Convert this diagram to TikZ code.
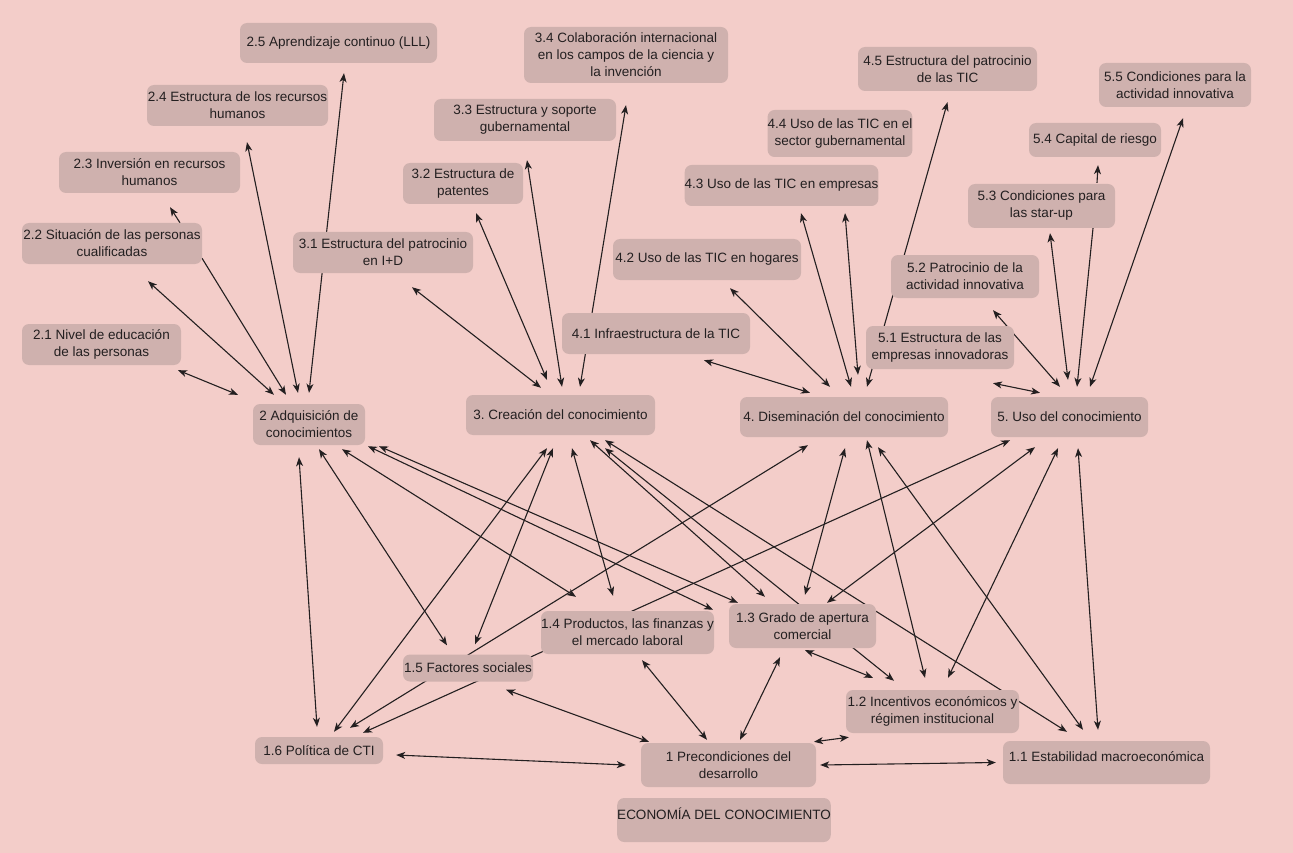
\documentclass[tikz,border=0pt]{standalone}
\usepackage{fontspec}
\setmainfont{Liberation Sans}
\usepackage{tikz}
\usetikzlibrary{arrows.meta}
\definecolor{fondo}{rgb}{0.953,0.804,0.788}
\definecolor{caja}{rgb}{0.812,0.694,0.682}
\definecolor{trazo}{rgb}{0.137,0.122,0.125}
\pgfdeclarelayer{lineas}
\pgfsetlayers{lineas,main}
\frenchspacing

\begin{document}
\begin{tikzpicture}[line cap=round,line join=round,>={Stealth[length=9pt,width=7pt,inset=2.5pt]},x=1pt,y=-1pt,
  recuadro/.style={fill=caja,rounded corners=7pt,align=center,inner sep=0pt,text=trazo,font=\fontsize{13.5}{17}\selectfont},
  flecha/.style={<->,draw=trazo,line width=1.1pt},
  flechauna/.style={->,draw=trazo,line width=1.1pt}]
\node[recuadro,minimum width=197,minimum height=40] (n25) at (338.5,43) {2.5 Aprendizaje continuo (LLL)};
\node[recuadro,minimum width=204,minimum height=56] (n34) at (626,55) {3.4 Colaboración internacional\\en los campos de la ciencia y\\la invención};
\node[recuadro,minimum width=181,minimum height=41] (n24) at (237.5,105.5) {2.4 Estructura de los recursos\\humanos};
\node[recuadro,minimum width=182,minimum height=42] (n33) at (525,120) {3.3 Estructura y soporte\\gubernamental};
\node[recuadro,minimum width=179,minimum height=44] (n45) at (947.5,69) {4.5 Estructura del patrocinio\\de las TIC};
\node[recuadro,minimum width=152,minimum height=44] (n55) at (1175,85) {5.5 Condiciones para la\\actividad innovativa};
\node[recuadro,minimum width=144,minimum height=47] (n44) at (840,133.5) {4.4 Uso de las TIC en el\\sector gubernamental};
\node[recuadro,minimum width=181,minimum height=41] (n23) at (149.5,172.5) {2.3 Inversión en recursos\\humanos};
\node[recuadro,minimum width=120,minimum height=41] (n32) at (463,183.5) {3.2 Estructura de\\patentes};
\node[recuadro,minimum width=132,minimum height=34] (n54) at (1095,140) {5.4 Capital de riesgo};
\node[recuadro,minimum width=189,minimum height=41] (n43) at (781.5,185.5) {4.3 Uso de las TIC en empresas};
\node[recuadro,minimum width=147,minimum height=44] (n53) at (1041.5,206) {5.3 Condiciones para\\las star-up};
\node[recuadro,minimum width=180,minimum height=41] (n22) at (112,243.5) {2.2 Situación de las personas\\cualificadas};
\node[recuadro,minimum width=180,minimum height=41] (n31) at (383,252.5) {3.1 Estructura del patrocinio\\en I+D};
\node[recuadro,minimum width=188,minimum height=41] (n42) at (707,259.5) {4.2 Uso de las TIC en hogares};
\node[recuadro,minimum width=148,minimum height=43] (n52) at (965,276.5) {5.2 Patrocinio de la\\actividad innovativa};
\node[recuadro,minimum width=159,minimum height=41] (n21) at (101.5,344.5) {2.1 Nivel de educación\\de las personas};
\node[recuadro,minimum width=188,minimum height=41] (n41) at (656,333.5) {4.1 Infraestructura de la TIC};
\node[recuadro,minimum width=148,minimum height=43] (n51) at (940,347.5) {5.1 Estructura de las\\empresas innovadoras};
\node[recuadro,minimum width=112,minimum height=41] (n2) at (309,424.5) {2 Adquisición de\\conocimientos};
\node[recuadro,minimum width=189,minimum height=40] (n3) at (560.5,415) {3. Creación del conocimiento};
\node[recuadro,minimum width=208,minimum height=40] (n4) at (844,417) {4. Diseminación del conocimiento};
\node[recuadro,minimum width=157,minimum height=40] (n5) at (1069.5,417) {5. Uso del conocimiento};
\node[recuadro,minimum width=173,minimum height=43] (n14) at (627.5,632.5) {1.4 Productos, las finanzas y\\el mercado laboral};
\node[recuadro,minimum width=147,minimum height=44] (n13) at (802.5,626) {1.3 Grado de apertura\\comercial};
\node[recuadro,minimum width=130,minimum height=27] (n15) at (468,668) {1.5 Factores sociales};
\node[recuadro,minimum width=173,minimum height=43] (n12) at (932.5,711.5) {1.2 Incentivos económicos y\\régimen institucional};
\node[recuadro,minimum width=128,minimum height=27] (n16) at (319,750.5) {1.6 Política de CTI};
\node[recuadro,minimum width=175,minimum height=44] (n1) at (728.5,765) {1 Precondiciones del\\desarrollo};
\node[recuadro,minimum width=207,minimum height=43,text depth=12pt] (n11) at (1106.5,762.5) {1.1 Estabilidad macroeconómica};
\node[recuadro,minimum width=208,minimum height=44,text depth=12pt] (neco) at (724,820) {ECONOMÍA DEL CONOCIMIENTO};
\begin{pgfonlayer}{lineas}
\fill[fondo] (0,0) rectangle (1293,853);
\draw[flecha] ([shift={(76.5,5)}]n21.south) -- ([shift={(-71,-9)}]n2.north);
\draw[flecha] ([shift={(36,17)}]n22.south) -- ([shift={(-35,-9)}]n2.north);
\draw[flechauna] ([shift={(90,-6)}]n22.south) -- ([shift={(-23,-9)}]n2.north);
\draw[flechauna] ([shift={(68,0)}]n22.north) -- ([shift={(20.5,14)}]n23.south);
\draw[flecha] ([shift={(9.5,16)}]n24.south) -- ([shift={(-11,-11)}]n2.north);
\draw[flecha] ([shift={(5.5,10)}]n25.south) -- ([shift={(0,-11)}]n2.north);
\draw[flecha] ([shift={(29,14)}]n31.south) -- ([shift={(-19.5,-7)}]n3.north);
\draw[flecha] ([shift={(13,9)}]n32.south) -- ([shift={(-13.5,-15)}]n3.north);
\draw[flecha] ([shift={(2,19)}]n33.south) -- ([shift={(1.5,-8)}]n3.north);
\draw[flecha] ([shift={(0,22)}]n34.south) -- ([shift={(19.5,-8)}]n3.north);
\draw[flecha] ([shift={(48,6)}]n41.south) -- ([shift={(-34,-4)}]n4.north);
\draw[flecha] ([shift={(23,8)}]n42.south) -- ([shift={(-14,-10)}]n4.north);
\draw[flecha] ([shift={(19.5,7)}]n43.south) -- ([shift={(7,-10)}]n4.north);
\draw[flecha] ([shift={(63.5,7)}]n43.south) -- ([shift={(14,-22)}]n4.north);
\draw[flecha] ([shift={(0,11)}]n45.south) -- ([shift={(23,-10)}]n4.north);
\draw[flecha] ([shift={(53,14)}]n51.south) -- ([shift={(-29.5,-4)}]n5.north);
\draw[flecha] ([shift={(28,12)}]n52.south) -- ([shift={(-9.5,-10)}]n5.north);
\draw[flecha] ([shift={(8.5,5)}]n53.south) -- ([shift={(-1.5,-17)}]n5.north);
\draw[flechauna] ([shift={(55.5,-1)}]n53.north) -- ([shift={(3,8)}]n54.south);
\draw[flechauna] ([shift={(51.5,0)}]n53.south) -- ([shift={(7.5,-10)}]n5.north);
\draw[flecha] ([shift={(8,11)}]n55.south) -- ([shift={(20.5,-10)}]n5.north);
\draw[flecha] ([shift={(-10,12)}]n2.south) -- ([shift={(-2,-10)}]n16.north);
\draw[flecha] ([shift={(10,4)}]n2.south) -- ([shift={(-21,-9)}]n15.north);
\draw[flecha] ([shift={(33,4)}]n2.south) -- ([shift={(-51.5,-14)}]n14.north);
\draw[flecha] ([shift={(59,1)}]n2.south) -- ([shift={(85.5,-1)}]n14.north);
\draw[flecha] ([shift={(70,1)}]n2.south) -- ([shift={(-64.5,-1)}]n13.north);
\draw[flecha] ([shift={(-13.5,13)}]n3.south) -- ([shift={(15,-5)}]n16.north);
\draw[flecha] ([shift={(-7.5,13)}]n3.south) -- ([shift={(7,-10)}]n15.north);
\draw[flecha] ([shift={(11.5,13)}]n3.south) -- ([shift={(-14.5,-15)}]n14.north);
\draw[flecha] ([shift={(29.5,5)}]n3.south) -- ([shift={(-37.5,-7)}]n13.north);
\draw[flecha] ([shift={(44.5,13)}]n3.south) -- ([shift={(-38.5,-9)}]n12.north);
\draw[flecha] ([shift={(44.5,5)}]n3.south) -- ([shift={(-39.5,-9)}]n11.north);
\draw[flecha] ([shift={(-36,8)}]n4.south) -- ([shift={(31,-9)}]n16.north);
\draw[flecha] ([shift={(1,11)}]n4.south) -- ([shift={(2.5,-9)}]n13.north);
\draw[flecha] ([shift={(23,3)}]n4.south) -- ([shift={(-7.5,-12)}]n12.north);
\draw[flecha] ([shift={(34,10)}]n4.south) -- ([shift={(-23.5,-11)}]n11.north);
\draw[flecha] ([shift={(-59.5,3)}]n5.south) -- ([shift={(44,-4)}]n16.north);
\draw[flecha] ([shift={(-34.5,10)}]n5.south) -- ([shift={(24.5,-1)}]n13.north);
\draw[flecha] ([shift={(-11.5,11)}]n5.south) -- ([shift={(15.5,-12)}]n12.north);
\draw[flecha] ([shift={(8.5,11)}]n5.south) -- ([shift={(-8.5,-11)}]n11.north);
\draw[flecha] ([shift={(13,4.5)}]n16.east) -- ([shift={(-15,0)}]n1.west);
\draw[flecha] ([shift={(38,8)}]n15.south) -- ([shift={(-79.5,-1)}]n1.north);
\draw[flecha] ([shift={(14.5,6)}]n14.south) -- ([shift={(-21.5,-3)}]n1.north);
\draw[flecha] ([shift={(-22.5,9)}]n13.south) -- ([shift={(11.5,-3)}]n1.north);
\draw[flecha] ([shift={(2.5,2)}]n13.south) -- ([shift={(-59.5,-12)}]n12.north);
\draw[flecha] ([shift={(85.5,-1)}]n1.north) -- ([shift={(3,4)}]n12.south west);
\draw[flecha] ([shift={(4,0)}]n1.east) -- ([shift={(-7,0)}]n11.west);
\end{pgfonlayer}
\end{tikzpicture}
\end{document}
